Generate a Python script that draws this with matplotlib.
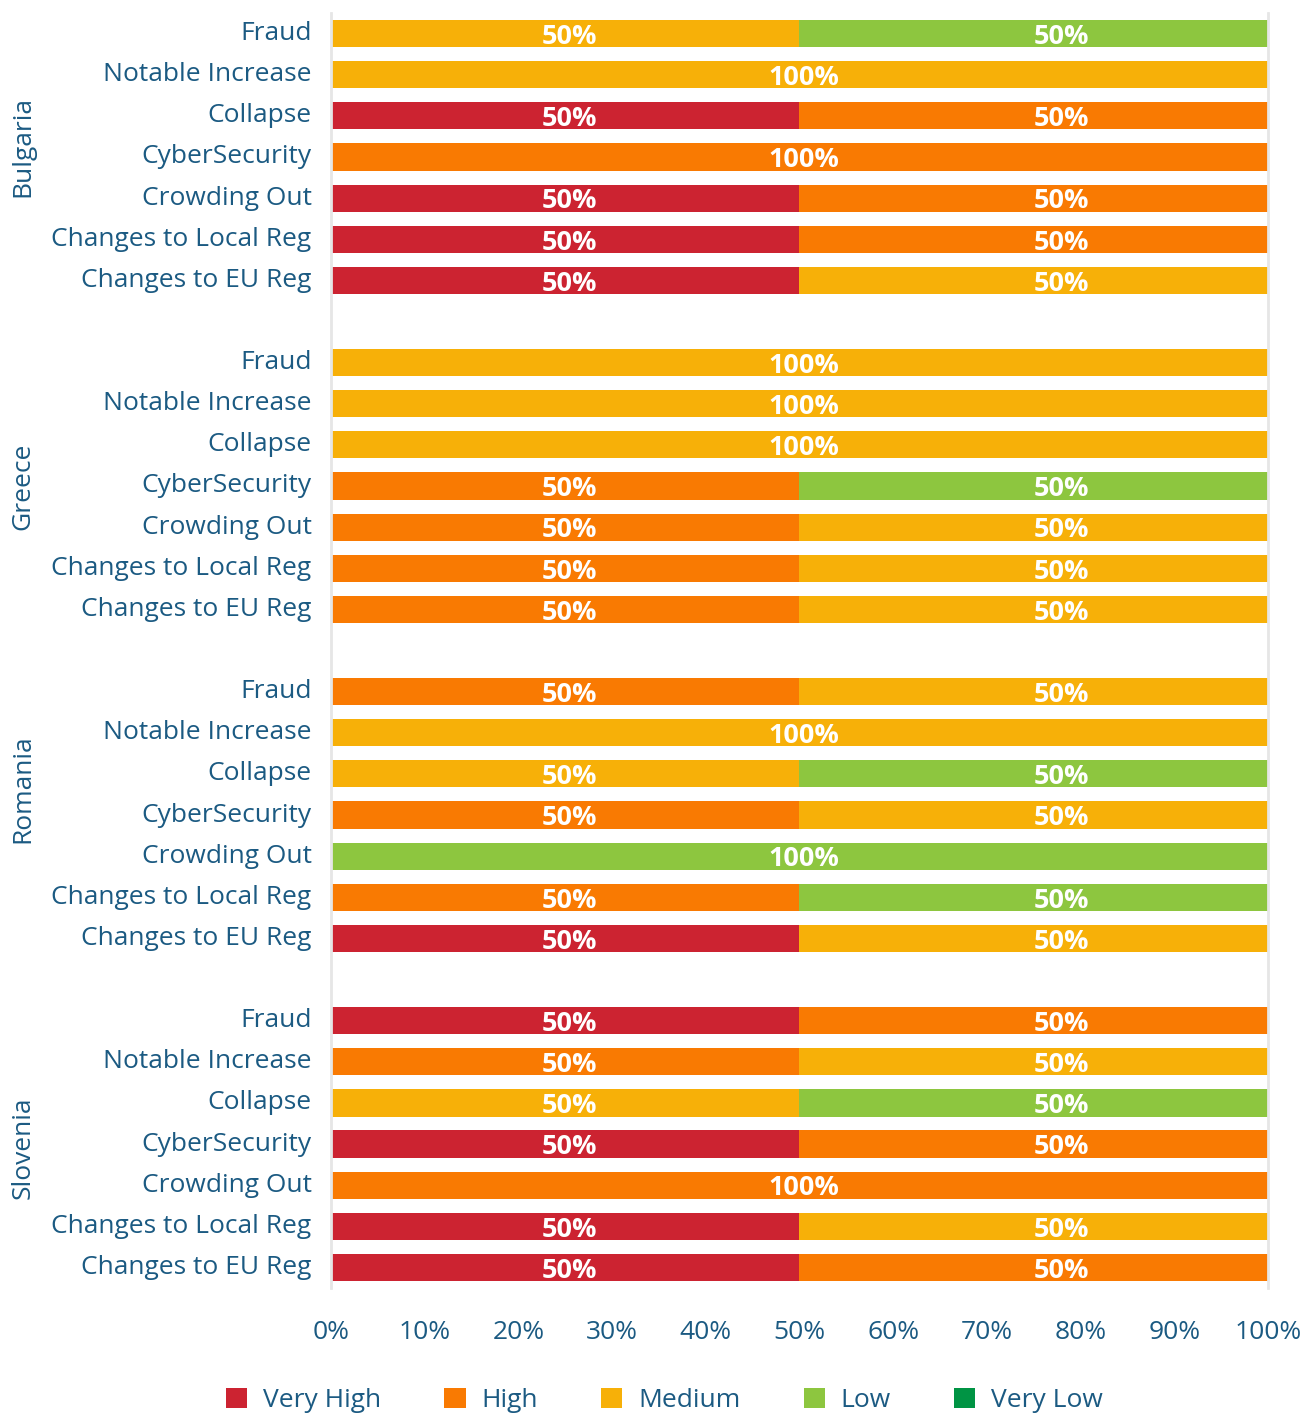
import matplotlib.pyplot as plt
from matplotlib.patches import Patch

countries = ['Bulgaria', 'Greece', 'Romania', 'Slovenia']
risks = ['Fraud', 'Notable Increase', 'Collapse', 'CyberSecurity',
         'Crowding Out', 'Changes to Local Reg', 'Changes to EU Reg']
levels = ['Very High', 'High', 'Medium', 'Low', 'Very Low']
colors = ['#cc2331', '#f97a02', '#f7b008', '#8dc63f', '#009444']

# share of answers (%) per risk, countries in order, risks in order
very_high = [0, 0, 50, 0, 50, 50, 50,
             0, 0, 0, 0, 0, 0, 0,
             0, 0, 0, 0, 0, 0, 50,
             50, 0, 0, 50, 0, 50, 50]
high = [0, 0, 50, 100, 50, 50, 0,
        0, 0, 0, 50, 50, 50, 50,
        50, 0, 0, 50, 0, 50, 0,
        50, 50, 0, 50, 100, 0, 50]
medium = [50, 100, 0, 0, 0, 0, 50,
          100, 100, 100, 0, 50, 50, 50,
          50, 100, 50, 50, 0, 0, 50,
          0, 50, 50, 0, 0, 50, 0]
low = [50, 0, 0, 0, 0, 0, 0,
       0, 0, 0, 50, 0, 0, 0,
       0, 0, 50, 0, 100, 50, 0,
       0, 0, 50, 0, 0, 0, 0]
very_low = [0] * 28

series = [very_high, high, medium, low, very_low]
text_color = '#1b5a82'
font = 'Open Sans'

# one empty slot between country groups
ypos = []
for g in range(len(countries)):
    for r in range(len(risks)):
        ypos.append(g * (len(risks) + 1) + r)

fig = plt.figure(figsize=(13.16, 14.14), dpi=100)
ax = fig.add_axes([0.2515, 0.0891, 0.712, 0.9017])

left = [0] * len(ypos)
for vals, col in zip(series, colors):
    ax.barh(ypos, vals, left=left, height=0.66, color=col)
    for y, v, l in zip(ypos, vals, left):
        if v > 0:
            # labels sit a little right of the segment middle
            nudge = 0.5 if l == 0 else 3.0
            ax.text(l + v / 2 + nudge, y + 0.08, f'{v}%', ha='center', va='center',
                    color='white', fontsize=19.5, fontweight='bold', family=font)
    left = [a + b for a, b in zip(left, vals)]

ax.set_xlim(0, 100)
ax.set_ylim(ypos[-1] + 0.5, -0.5)
ax.set_xticks(range(0, 101, 10))
ax.set_xticklabels([f'{t}%' for t in range(0, 101, 10)])
ax.set_yticks(ypos)
ax.set_yticklabels(risks * len(countries))
ax.tick_params(length=0, labelcolor=text_color, labelsize=19)
ax.tick_params(axis='y', pad=14)
ax.tick_params(axis='x', pad=32)
for lab in ax.get_xticklabels() + ax.get_yticklabels():
    lab.set_family(font)
    lab.set_verticalalignment('center')

for side in ['top', 'bottom']:
    ax.spines[side].set_visible(False)
for side in ['left', 'right']:
    ax.spines[side].set_color('#e6e6e6')
    ax.spines[side].set_linewidth(2)

# country names down the left side
name_shift = [-0.25, 0, -0.63, 0.1]
for g, name in enumerate(countries):
    yc = g * (len(risks) + 1) + (len(risks) - 1) / 2 + name_shift[g]
    ax.text(-0.329, yc, name, transform=ax.get_yaxis_transform(),
            rotation=90, ha='center', va='center', color=text_color,
            fontsize=19, family=font)

handles = [Patch(facecolor=c, label=l) for c, l in zip(colors, levels)]
fig.legend(handles=handles, loc='center', bbox_to_anchor=(0.505, 0.0095),
           ncol=5, frameon=False, handlelength=0.8, handleheight=0.8,
           columnspacing=2.4, handletextpad=0.6,
           prop={'family': font, 'size': 19}, labelcolor=text_color)

fig.savefig('out.png')
